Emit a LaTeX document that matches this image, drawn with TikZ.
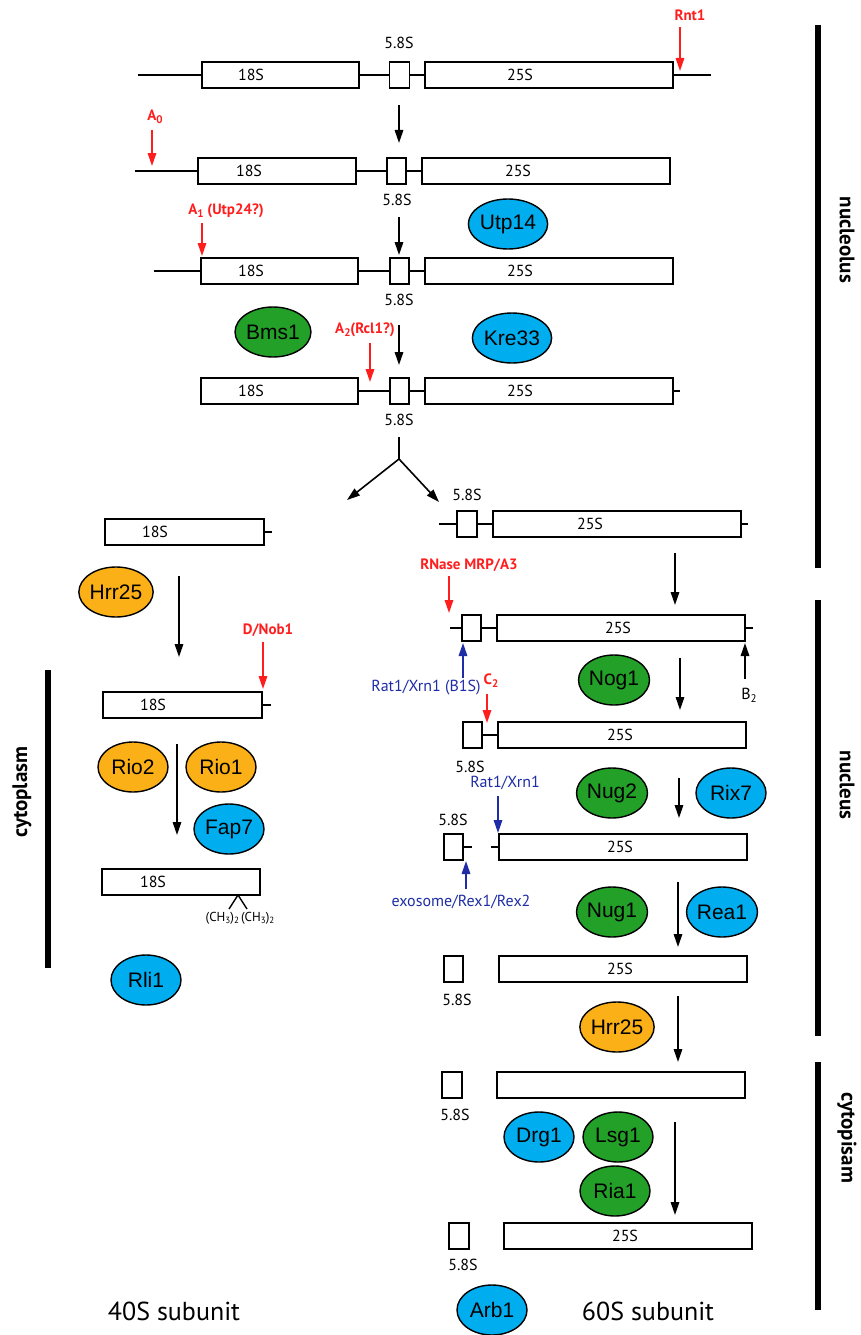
\documentclass[tikz,border=0pt]{standalone}
\usepackage{fontspec}
\setmainfont{PT Sans}
\newfontfamily\helv{Liberation Sans}
\usetikzlibrary{shapes.geometric,arrows.meta}
\definecolor{cutred}{RGB}{255,30,30}
\definecolor{xrnblue}{RGB}{30,45,165}
\definecolor{pblue}{RGB}{0,174,239}
\definecolor{pgreen}{RGB}{34,160,40}
\definecolor{porange}{RGB}{251,176,23}
\newcommand{\lowidx}[1]{\raisebox{-0.4ex}{\fontsize{11}{11}\selectfont #1}}
\begin{document}
\begin{tikzpicture}[x=1pt, y=-1pt,
	rna/.style = {draw, line width=1.8pt, minimum height=26pt, inner sep=0pt},
	ln/.style = {line width=1.8pt},
	lbl/.style = {inner sep=0pt, font=\fontsize{16}{18}\selectfont},
	cut/.style = {inner sep=0pt, text=cutred, font=\fontsize{15}{17}\selectfont\bfseries},
	xrn/.style = {inner sep=0pt, text=xrnblue, font=\fontsize{16}{18}\selectfont},
	arr/.style = {line width=1.6pt, -{Triangle[length=13pt,width=8.5pt]}},
	cutarr/.style = {arr, cutred},
	xrnarr/.style = {arr, xrnblue},
	prot/.style = {ellipse, draw, line width=1.4pt, minimum width=70pt, minimum height=50pt, inner sep=0pt, font=\fontsize{21}{23}\selectfont\helv},
	pb/.style = {prot, fill=pblue},
	pg/.style = {prot, fill=pgreen},
	po/.style = {prot, fill=porange},
	bar/.style = {line width=6pt},
	side/.style = {inner sep=0pt, font=\fontsize{21}{23}\selectfont\bfseries}]
	\useasboundingbox (0,0) rectangle (860,1335);

	% primary transcript
	\coordinate (t1) at (138,75);
	\node[rna, minimum width=157pt] (p1a) at (280.5,75) {};
	\node[rna, minimum width=20pt] (p1b) at (399.5,75) {};
	\node[rna, minimum width=248pt] (p1c) at (549,75) {};
	\coordinate (t2) at (711,75);
	\draw[ln] (t1) -- (p1a); \draw[ln] (p1a) -- (p1b); \draw[ln] (p1b) -- (p1c); \draw[ln] (p1c) -- (t2);
	\node[lbl] (l1a) at (251,75) {18S};
	\node[lbl] (l1b) at (399,43) {5.8S};
	\node[lbl] (l1c) at (520,75) {25S};
	\node[cut] (rnt1) at (690,15) {Rnt1};
	\coordinate (k1s) at (680,27); \coordinate (k1e) at (680,71);
	\draw[cutarr] (k1s) -- (k1e);
	\coordinate (s1s) at (399,105); \coordinate (s1e) at (399,143);
	\draw[arr] (s1s) -- (s1e);

	\coordinate (t3) at (135,171);
	\node[rna, minimum width=158pt] (p2a) at (277,171) {};
	\node[rna, minimum width=19pt] (p2b) at (396.5,171) {};
	\node[rna, minimum width=248pt] (p2c) at (546,171) {};
	\draw[ln] (t3) -- (p2a); \draw[ln] (p2a) -- (p2b); \draw[ln] (p2b) -- (p2c);
	\node[lbl] (l2a) at (249,171) {18S};
	\node[lbl] (l2b) at (397,200) {5.8S};
	\node[lbl] (l2c) at (518,171) {25S};
	\node[cut] (a0) at (155,117) {A\lowidx{0}};
	\coordinate (k2s) at (152,130); \coordinate (k2e) at (152,166);
	\draw[cutarr] (k2s) -- (k2e);
	\node[pb] (utp14) at (508,224) {Utp14};
	\coordinate (s2s) at (399,217); \coordinate (s2e) at (399,255);
	\draw[arr] (s2s) -- (s2e);

	\coordinate (t4) at (154,271);
	\node[rna, minimum width=157pt] (p3a) at (279.5,271) {};
	\node[rna, minimum width=19pt] (p3b) at (399.5,271) {};
	\node[rna, minimum width=248pt] (p3c) at (549,271) {};
	\draw[ln] (t4) -- (p3a); \draw[ln] (p3a) -- (p3b); \draw[ln] (p3b) -- (p3c);
	\node[lbl] (l3a) at (251,271) {18S};
	\node[lbl] (l3b) at (399,300) {5.8S};
	\node[lbl] (l3c) at (520,271) {25S};
	\node[cut] (a1) at (226,211) {A\lowidx{1} (Utp24?)};
	\coordinate (k3s) at (202,223); \coordinate (k3e) at (202,256);
	\draw[cutarr] (k3s) -- (k3e);
	\node[pg] (bms1) at (273,332) {Bms1};
	\node[pb] (kre33) at (512,338) {Kre33};
	\node[cut] (a2) at (365,330) {A\lowidx{2}(Rcl1?)};
	\coordinate (k4s) at (370,343); \coordinate (k4e) at (370,382);
	\draw[cutarr] (k4s) -- (k4e);
	\coordinate (s3s) at (399,325); \coordinate (s3e) at (399,365);
	\draw[arr] (s3s) -- (s3e);

	\node[rna, minimum width=157pt] (p4a) at (279.5,391) {};
	\node[rna, minimum width=19pt] (p4b) at (399.5,391) {};
	\node[rna, minimum width=248pt] (p4c) at (549,391) {};
	\coordinate (t5) at (680,391);
	\draw[ln] (p4a) -- (p4b); \draw[ln] (p4b) -- (p4c); \draw[ln] (p4c) -- (t5);
	\node[lbl] (l4a) at (251,391) {18S};
	\node[lbl] (l4b) at (399,420) {5.8S};
	\node[lbl] (l4c) at (520,391) {25S};

	% split
	\coordinate (sp0) at (399,437); \coordinate (sp1) at (399,459);
	\coordinate (spl) at (347,500); \coordinate (spr) at (439,502);
	\draw[ln, line width=1.6pt] (sp0) -- (sp1);
	\draw[arr] (sp1) -- (spl);
	\draw[arr] (sp1) -- (spr);

	% 40S branch
	\node[rna, minimum width=159pt] (p5a) at (184.5,532) {};
	\coordinate (t6) at (272,532);
	\draw[ln] (p5a) -- (t6);
	\node[lbl] (l5a) at (155,532) {18S};
	\node[po] (hrr25a) at (116,592) {Hrr25};
	\coordinate (s4s) at (179,576); \coordinate (s4e) at (179,657);
	\draw[arr] (s4s) -- (s4e);
	\node[cut] (nob1) at (268,630) {D/Nob1};
	\coordinate (k5s) at (263,642); \coordinate (k5e) at (263,689);
	\draw[cutarr] (k5s) -- (k5e);

	\node[rna, minimum width=159pt] (p6a) at (182.5,705) {};
	\coordinate (t7) at (271,705);
	\draw[ln] (p6a) -- (t7);
	\node[lbl] (l6a) at (153,705) {18S};
	\node[po] (rio2) at (133,767) {Rio2};
	\node[po] (rio1) at (221,767) {Rio1};
	\coordinate (s5s) at (177,744); \coordinate (s5e) at (177,835);
	\draw[arr] (s5s) -- (s5e);
	\node[pb] (fap7) at (229,829) {Fap7};

	\node[rna, minimum width=158pt] (p7a) at (181,882) {};
	\node[lbl] (l7a) at (153,882) {18S};
	\coordinate (me0) at (238,895); \coordinate (me1) at (229,909); \coordinate (me2) at (247,909);
	\draw[line width=1.4pt] (me1) -- (me0) -- (me2);
	\node[inner sep=0pt, font=\fontsize{13}{15}\selectfont] (meth) at (240,918) {(CH\lowidx{\fontsize{9}{9}\selectfont 3})\lowidx{\fontsize{9}{9}\selectfont 2}\,(CH\lowidx{\fontsize{9}{9}\selectfont 3})\lowidx{\fontsize{9}{9}\selectfont 2}};
	\node[pb] (rli1) at (146,980) {Rli1};
	\coordinate (cb1) at (48,670); \coordinate (cb2) at (48,968);
	\draw[bar] (cb1) -- (cb2);
	\node[side, rotate=90] (cyto1) at (22,792) {cytoplasm};
	\node[inner sep=0pt, font=\fontsize{26}{28}\selectfont] (sub40) at (174,1311) {40S subunit};

	% 60S branch
	\node[lbl] (l8b) at (467,495) {5.8S};
	\coordinate (t8) at (439,524);
	\node[rna, minimum width=20pt] (p8b) at (467,524) {};
	\node[rna, minimum width=248pt] (p8c) at (617,524) {};
	\coordinate (t9) at (748,524);
	\draw[ln] (t8) -- (p8b); \draw[ln] (p8b) -- (p8c); \draw[ln] (p8c) -- (t9);
	\node[lbl] (l8c) at (590,524) {25S};
	\coordinate (s6s) at (675,553); \coordinate (s6e) at (675,605);
	\draw[arr] (s6s) -- (s6e);
	\node[cut] (mrp) at (469,565) {RNase MRP/A3};
	\coordinate (k6s) at (449,576); \coordinate (k6e) at (449,613);
	\draw[cutarr] (k6s) -- (k6e);

	\coordinate (t10) at (450,628);
	\node[rna, minimum width=19pt] (p9b) at (471.5,628) {};
	\node[rna, minimum width=248pt] (p9c) at (621,628) {};
	\coordinate (t11) at (753,628);
	\draw[ln] (t10) -- (p9b); \draw[ln] (p9b) -- (p9c); \draw[ln] (p9c) -- (t11);
	\node[lbl] (l9c) at (618,628) {25S};
	\coordinate (x1s) at (463,678); \coordinate (x1e) at (463,643);
	\draw[xrnarr] (x1s) -- (x1e);
	\node[xrn] (rat1a) at (426,688) {Rat1/Xrn1 (B1S)};
	\node[cut] (c2) at (491,681) {C\lowidx{2}};
	\coordinate (k7s) at (487,694); \coordinate (k7e) at (487,723);
	\draw[cutarr] (k7s) -- (k7e);
	\node[pg] (nog1) at (614,680) {Nog1};
	\coordinate (s7s) at (680,658); \coordinate (s7e) at (680,710);
	\draw[arr] (s7s) -- (s7e);
	\coordinate (b2s) at (745,679); \coordinate (b2e) at (745,643);
	\draw[arr] (b2s) -- (b2e);
	\node[lbl] (b2) at (749,695) {B\lowidx{2}};

	\node[rna, minimum width=19pt] (p10b) at (472.5,735) {};
	\node[rna, minimum width=248pt] (p10c) at (622,735) {};
	\draw[ln] (p10b) -- (p10c);
	\node[lbl] (l10c) at (620,735) {25S};
	\node[lbl] (l10b) at (470,767) {5.8S};
	\node[xrn] (rat1b) at (505,783) {Rat1/Xrn1};
	\coordinate (x2s) at (498,796); \coordinate (x2e) at (498,833);
	\draw[xrnarr] (x2s) -- (x2e);
	\node[pg] (nug2) at (612,793) {Nug2};
	\node[pb] (rix7) at (731,793) {Rix7};
	\coordinate (s8s) at (679,778); \coordinate (s8e) at (679,818);
	\draw[arr] (s8s) -- (s8e);

	\node[lbl] (l11b) at (453,820) {5.8S};
	\node[rna, minimum width=19pt] (p11b) at (453.5,847) {};
	\coordinate (t12) at (472,847); \coordinate (t13) at (491,847);
	\node[rna, minimum width=248pt] (p11c) at (623,847) {};
	\draw[ln] (p11b) -- (t12); \draw[ln] (t13) -- (p11c);
	\node[lbl] (l11c) at (620,847) {25S};
	\coordinate (x3s) at (466,889); \coordinate (x3e) at (466,861);
	\draw[xrnarr] (x3s) -- (x3e);
	\node[xrn] (exo) at (461,902) {exosome/Rex1/Rex2};
	\node[pg] (nug1) at (612,912) {Nug1};
	\node[pb] (rea1) at (722,912) {Rea1};
	\coordinate (s9s) at (678,882); \coordinate (s9e) at (678,947);
	\draw[arr] (s9s) -- (s9e);

	\node[rna, minimum width=19pt] (p12b) at (453.5,969) {};
	\node[rna, minimum width=248pt] (p12c) at (623,969) {};
	\node[lbl] (l12c) at (620,969) {25S};
	\node[lbl] (l12b) at (457,1000) {5.8S};
	\node[po] (hrr25b) at (617,1027) {Hrr25};
	\coordinate (s10s) at (678,996); \coordinate (s10e) at (678,1062);
	\draw[arr] (s10s) -- (s10e);

	\node[rna, minimum width=20pt] (p13b) at (452,1085) {};
	\node[rna, minimum width=248pt] (p13c) at (621,1085) {};
	\node[lbl] (l13b) at (455,1115) {5.8S};
	\node[pb] (drg1) at (539,1137) {Drg1};
	\node[pg] (lsg1) at (618,1137) {Lsg1};
	\node[pg] (ria1) at (615,1191) {Ria1};
	\coordinate (s11s) at (675,1122); \coordinate (s11e) at (675,1215);
	\draw[arr] (s11s) -- (s11e);

	\node[rna, minimum width=20pt] (p14b) at (459,1236) {};
	\node[rna, minimum width=248pt] (p14c) at (628,1236) {};
	\node[lbl] (l14c) at (625,1236) {25S};
	\node[lbl] (l14b) at (463,1265) {5.8S};
	\node[pb] (arb1) at (492,1310) {Arb1};
	\node[inner sep=0pt, font=\fontsize{26}{28}\selectfont] (sub60) at (648,1311) {60S subunit};

	% compartments
	\coordinate (nb1) at (818,25); \coordinate (nb2) at (818,568);
	\coordinate (nb3) at (818,600); \coordinate (nb4) at (818,1036);
	\coordinate (nb5) at (818,1062); \coordinate (nb6) at (818,1310);
	\draw[bar] (nb1) -- (nb2);
	\draw[bar] (nb3) -- (nb4);
	\draw[bar] (nb5) -- (nb6);
	\node[side, rotate=-90] (nucleolus) at (847,240) {nucleolus};
	\node[side, rotate=-90] (nucleus) at (847,785) {nucleus};
	\node[side, rotate=-90] (cyto2) at (847,1138) {cytopisam};
\end{tikzpicture}
\end{document}
